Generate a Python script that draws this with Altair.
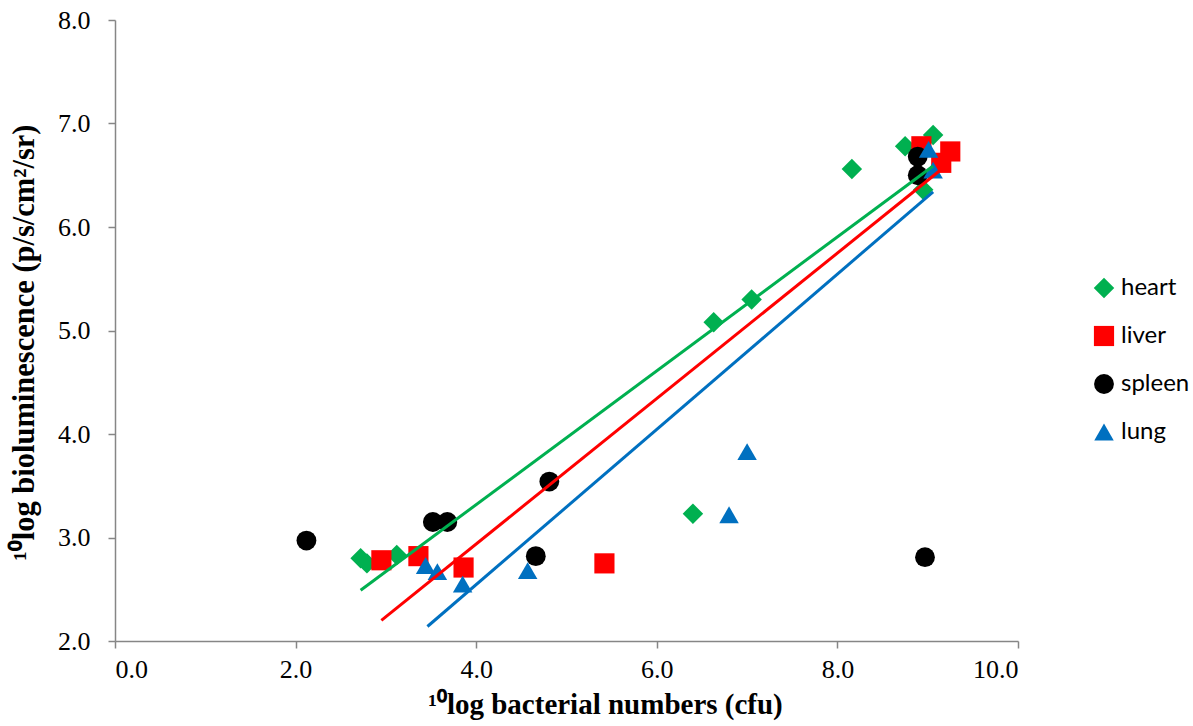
import altair as alt
import pandas as pd

organs = ["heart", "liver", "spleen", "lung"]
colors = ["#00B050", "#FF0000", "#000000", "#0070C0"]
shapes = ["diamond", "square", "circle", "triangle-up"]
marker_sizes = [420, 380, 430, 560]

heart_x = [2.72, 2.79, 3.12, 6.40, 6.63, 7.05, 8.16, 8.75, 9.06, 8.95]
heart_y = [2.80, 2.75, 2.83, 3.23, 5.08, 5.30, 6.56, 6.78, 6.89, 6.36]
liver_x = [2.95, 3.36, 3.86, 5.42, 8.93, 9.15, 9.25]
liver_y = [2.78, 2.82, 2.71, 2.75, 6.78, 6.62, 6.73]
spleen_x = [2.12, 3.52, 3.68, 4.81, 4.66, 8.97, 8.89, 8.89]
spleen_y = [2.97, 3.15, 3.15, 3.54, 2.82, 2.81, 6.68, 6.50]
lung_x = [3.44, 3.57, 3.85, 4.57, 6.80, 7.00, 9.01, 9.06]
lung_y = [2.73, 2.67, 2.55, 2.68, 3.22, 3.83, 6.75, 6.55]

# trendline end points
trend_organs = ["heart", "liver", "lung"]
trend_colors = ["#00B050", "#FF0000", "#0070C0"]
trend_x0 = [2.72, 2.95, 3.46]
trend_y0 = [2.49, 2.20, 2.14]
trend_x1 = [9.06, 9.17, 9.06]
trend_y1 = [6.59, 6.57, 6.34]

xs = {"heart": heart_x, "liver": liver_x, "spleen": spleen_x, "lung": lung_x}
ys = {"heart": heart_y, "liver": liver_y, "spleen": spleen_y, "lung": lung_y}
rows = []
for o in organs:
    for a, b in zip(xs[o], ys[o]):
        rows.append({"organ": o, "x": a, "y": b})
pts = pd.DataFrame(rows)

xscale = alt.Scale(domain=[0, 10], nice=False, zero=False)
yscale = alt.Scale(domain=[2, 8], nice=False, zero=False)

xaxis = alt.Axis(
    title="¹⁰log bacterial numbers (cfu)",
    values=[0, 2, 4, 6, 8, 10], format=".1f", grid=False,
    titleX=490, titleY=72, titleAlign="center", titleBaseline="alphabetic",
    titleFontSize=29, labelPadding=8,
)
yaxis = alt.Axis(
    title="¹⁰log bioluminescence (p/s/cm²/sr)",
    values=[2, 3, 4, 5, 6, 7, 8], format=".1f", grid=False,
    titleX=-82, titleY=322, titleAngle=270, titleAlign="center",
    titleBaseline="alphabetic", titleFontSize=30.5, labelPadding=18,
)

points = alt.Chart(pts).mark_point(filled=True, opacity=1, strokeWidth=0).encode(
    x=alt.X("x:Q", scale=xscale, axis=xaxis),
    y=alt.Y("y:Q", scale=yscale, axis=yaxis),
    color=alt.Color("organ:N", scale=alt.Scale(domain=organs, range=colors),
                    legend=alt.Legend(title=None, orient="none", legendX=977, legendY=256,
                                      symbolSize=256, labelFont="Lato", labelFontSize=24,
                                      labelColor="#000000", rowPadding=24, labelOffset=5,
                                      padding=0, symbolStrokeWidth=0)),
    shape=alt.Shape("organ:N", scale=alt.Scale(domain=organs, range=shapes)),
    size=alt.Size("organ:N", scale=alt.Scale(domain=organs, range=marker_sizes), legend=None),
    order=alt.Order("idx:Q"),
).transform_calculate(idx="indexof(['heart','liver','spleen','lung'], datum.organ)")

layers = [points]
for o, c, a0, b0, a1, b1 in zip(trend_organs, trend_colors, trend_x0, trend_y0, trend_x1, trend_y1):
    df = pd.DataFrame({"x": [a0, a1], "y": [b0, b1]})
    layers.append(
        alt.Chart(df).mark_line(strokeWidth=3, color=c).encode(
            x=alt.X("x:Q", scale=xscale),
            y=alt.Y("y:Q", scale=yscale),
        )
    )

chart = alt.layer(*layers).properties(
    width=903, height=621,
    autosize=alt.AutoSizeParams(type="none"),
    padding={"left": 115, "top": 20, "right": 175, "bottom": 85},
).configure_view(stroke=None).configure_axis(
    labelFont="Liberation Serif", labelFontSize=26, labelColor="#000000",
    titleFont="Liberation Serif", titleFontWeight="bold", titleColor="#000000",
    domainColor="#868686", domainWidth=1.5, tickColor="#868686", tickWidth=1.5, tickSize=7,
)

chart.save("out.html", embed_options={"renderer": "svg", "actions": False})
